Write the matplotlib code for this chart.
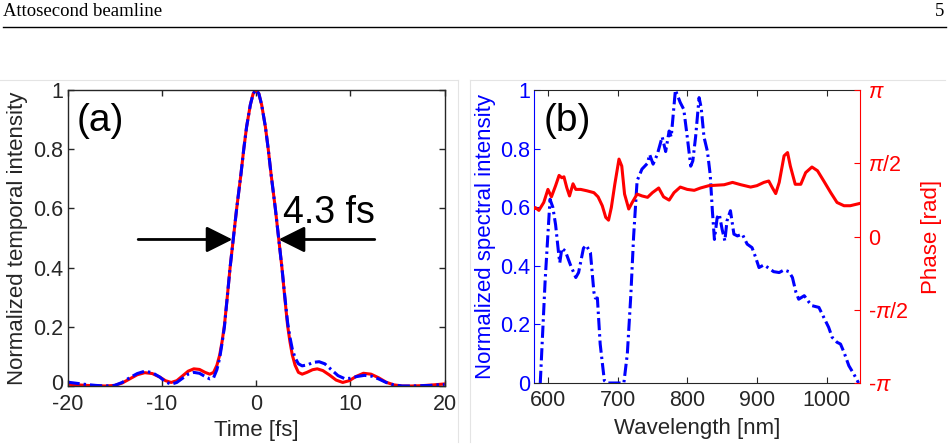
import numpy as np
import matplotlib.pyplot as plt
import matplotlib.transforms as mtransforms
from matplotlib.lines import Line2D

plt.rcParams['font.family'] = ['Liberation Sans', 'DejaVu Sans']
plt.rcParams['mathtext.fontset'] = 'custom'
plt.rcParams['mathtext.it'] = 'Liberation Sans:italic'
plt.rcParams['mathtext.rm'] = 'Liberation Sans'
plt.rcParams['axes.unicode_minus'] = False

# (a) temporal intensity, retrieved (red) and measured (blue)
t_red = [-20, -19, -18, -17, -16, -15, -14.2, -13.4, -12.6, -11.8, -11.0, -10.2, -9.6, -9.0,
         -8.4, -7.8, -7.2, -6.6, -6.0, -5.4, -4.9, -4.5, -4.15, -3.85, -3.6, -3.35, -3.05,
         -2.75, -2.4, -2.05, -1.6, -1.3, -1.0, -0.6, -0.3, 0, 0.3, 0.6, 1.0, 1.3, 1.6, 2.05,
         2.4, 2.75, 3.05, 3.35, 3.6, 3.85, 4.15, 4.5, 4.9, 5.4, 6.0, 6.5, 7.1, 7.8, 8.5, 9.2,
         9.9, 10.6, 11.4, 12.2, 13.0, 13.8, 14.6, 15.5, 16.5, 17.5, 18.5, 19.3, 20]
I_red = [0.006, 0.004, 0.002, 0.001, 0.0, 0.002, 0.010, 0.024, 0.038, 0.045, 0.042, 0.030,
         0.018, 0.012, 0.018, 0.034, 0.050, 0.058, 0.056, 0.046, 0.040, 0.046, 0.070, 0.105,
         0.150, 0.205, 0.300, 0.400, 0.500, 0.600, 0.715, 0.800, 0.875, 0.950, 0.988, 1.0,
         0.988, 0.950, 0.875, 0.800, 0.715, 0.600, 0.500, 0.400, 0.300, 0.205, 0.150, 0.105,
         0.070, 0.046, 0.040, 0.046, 0.055, 0.058, 0.052, 0.037, 0.020, 0.012, 0.018, 0.032,
         0.043, 0.040, 0.028, 0.013, 0.004, 0.0, 0.0, 0.001, 0.003, 0.005, 0.007]

t_blue = [-20, -19, -18, -17, -16, -15, -14.2, -13.4, -12.6, -11.8, -11.0, -10.2, -9.6, -9.0,
          -8.4, -7.8, -7.2, -6.6, -6.0, -5.4, -4.9, -4.5, -4.15, -3.85, -3.6, -3.35, -3.05,
          -2.75, -2.4, -2.05, -1.6, -1.3, -1.0, -0.6, -0.3, 0, 0.3, 0.6, 1.0, 1.3, 1.6, 2.05,
          2.4, 2.75, 3.05, 3.35, 3.6, 3.85, 4.15, 4.5, 4.9, 5.5, 6.1, 6.7, 7.3, 8.0, 8.7, 9.4,
          10.0, 10.7, 11.5, 12.3, 13.0, 13.8, 14.6, 15.5, 16.5, 17.5, 18.5, 19.3, 20]
I_blue = [0.013, 0.009, 0.005, 0.002, 0.0, 0.002, 0.012, 0.028, 0.042, 0.050, 0.045, 0.030,
          0.014, 0.006, 0.012, 0.026, 0.040, 0.046, 0.043, 0.032, 0.024, 0.028, 0.055, 0.095,
          0.145, 0.200, 0.300, 0.400, 0.500, 0.600, 0.715, 0.800, 0.875, 0.950, 0.988, 1.0,
          0.988, 0.950, 0.875, 0.800, 0.715, 0.600, 0.500, 0.400, 0.305, 0.215, 0.165, 0.125,
          0.095, 0.075, 0.068, 0.072, 0.080, 0.082, 0.075, 0.055, 0.035, 0.025, 0.026, 0.032,
          0.036, 0.033, 0.024, 0.012, 0.004, 0.0, 0.0, 0.001, 0.002, 0.004, 0.005]

# (b) spectrum (blue, left axis) and spectral phase (red, right axis)
wl_spec = [589, 596, 603, 607, 611, 615, 617, 620, 625, 632, 640, 644, 651, 655, 661, 666,
           668, 671, 675, 681, 685, 709, 714, 719, 723, 728, 735, 743, 746, 751, 757, 764, 769,
           774, 777, 783, 790, 795, 800, 805, 808, 812, 817, 820, 824, 829, 833, 836, 839, 843,
           846, 850, 854, 857, 862, 867, 872, 879, 886, 893, 898, 903, 910, 917, 924, 932, 939,
           946, 951, 956, 960, 968, 975, 979, 989, 996, 1003, 1008, 1015, 1020, 1025, 1032,
           1039, 1046]
I_spec = [0.0, 0.35, 0.627, 0.60, 0.54, 0.45, 0.41, 0.46, 0.45, 0.405, 0.36, 0.377, 0.46,
          0.47, 0.445, 0.31, 0.29, 0.29, 0.133, 0.008, 0.0, 0.0, 0.10, 0.30, 0.50, 0.69, 0.73,
          0.75, 0.78, 0.747, 0.78, 0.84, 0.79, 0.86, 0.84, 1.0, 0.957, 0.934, 0.84, 0.74,
          0.758, 0.84, 0.974, 0.94, 0.84, 0.79, 0.71, 0.59, 0.49, 0.565, 0.576, 0.525, 0.485,
          0.553, 0.588, 0.508, 0.502, 0.508, 0.474, 0.462, 0.43, 0.394, 0.403, 0.392, 0.38,
          0.377, 0.386, 0.38, 0.36, 0.31, 0.286, 0.298, 0.275, 0.264, 0.258, 0.224, 0.19,
          0.156, 0.139, 0.133, 0.105, 0.059, 0.031, 0.0]

wl_phase = [580, 582, 587, 594, 600, 605, 611, 616, 620, 623, 627, 631, 636, 640, 647, 656,
            666, 672, 678, 683, 687, 691, 696, 702, 706, 710, 716, 721, 728, 735, 743, 750,
            759, 766, 774, 781, 790, 800, 810, 819, 831, 853, 865, 877, 891, 900, 910, 917,
            922, 927, 932, 939, 944, 948, 955, 963, 970, 979, 987, 996, 1006, 1015, 1025,
            1034, 1048]
phase = [0.60, 0.62, 0.56, 0.73, 1.01, 0.85, 1.09, 1.31, 1.26, 1.28, 1.05, 0.87, 1.13, 1.01,
         1.01, 0.98, 0.94, 0.85, 0.66, 0.41, 0.35, 0.62, 1.12, 1.66, 1.51, 0.91, 0.59, 0.73,
         0.91, 0.87, 0.84, 0.94, 1.04, 0.85, 0.78, 0.94, 1.06, 1.01, 0.99, 1.04, 1.09, 1.11,
         1.16, 1.11, 1.06, 1.09, 1.16, 1.19, 1.05, 0.92, 1.16, 1.73, 1.80, 1.51, 1.12, 1.12,
         1.37, 1.49, 1.41, 1.19, 0.94, 0.73, 0.66, 0.66, 0.71]

phase_ticks = [-np.pi, -np.pi / 2, 0, np.pi / 2, np.pi]
phase_labels = ['-$\\pi$', '-$\\pi$/2', '0', '$\\pi$/2', '$\\pi$']

BLUE = (0, 0, 1)
RED = (1, 0, 0)
GREY = '#262626'
dashdot = (0, (4, 1.3, 0.8, 1.3))
FS_TICK = 15.5
FS_LAB = 16

fig = plt.figure(figsize=(9.49, 4.48), dpi=100)

# page header
fig.text(3 / 949, 1 - 12 / 448, 'Attosecond beamline', family='Liberation Serif',
         fontsize=13.5, va='center', ha='left')
fig.text(944 / 949, 1 - 12 / 448, '5', family='Liberation Serif', fontsize=13.5,
         va='center', ha='right')
fig.add_artist(Line2D([3 / 949, 946 / 949], [1 - 27 / 448] * 2, color='k', lw=1.0))
# faint frames of the two sub-images
lc = '#e4e4e4'
fig.add_artist(Line2D([0, 457.5 / 949], [1 - 80.5 / 448] * 2, color=lc, lw=0.8))
fig.add_artist(Line2D([470 / 949, 945 / 949], [1 - 80.5 / 448] * 2, color=lc, lw=0.8))
fig.add_artist(Line2D([457.5 / 949] * 2, [1 - 80.5 / 448, 1 - 442 / 448], color=lc, lw=0.8))
fig.add_artist(Line2D([470 / 949] * 2, [1 - 80.5 / 448, 1 - 442 / 448], color=lc, lw=0.8))

# ---- (a)
ax = fig.add_axes([67.5 / 949, 1 - 386 / 448, 377 / 949, 296 / 448])
ax.plot(t_red, I_red, color=RED, lw=2.2)
ax.plot(t_blue, I_blue, color=BLUE, lw=2.2, ls=dashdot)
ax.set_xlim(-20, 20)
ax.set_ylim(0, 1)
ax.set_xticks([-20, -10, 0, 10, 20])
ax.set_yticks([0, 0.2, 0.4, 0.6, 0.8, 1])
ax.set_yticklabels(['0', '0.2', '0.4', '0.6', '0.8', '1'])
ax.tick_params(direction='in', top=True, right=True, length=4, width=1, colors=GREY,
               labelsize=FS_TICK)
ax.tick_params(axis='x', pad=6)
ax.tick_params(axis='y', pad=3)
# lift the "0" label a little so it clears the "-20" below it
lab0 = ax.get_yticklabels()[0]
lab0.set_transform(lab0.get_transform()
                   + mtransforms.ScaledTranslation(0, 3 / 72, fig.dpi_scale_trans))
for s in ax.spines.values():
    s.set_color(GREY)
    s.set_linewidth(1.0)
ax.set_xlabel('Time [fs]', fontsize=FS_LAB, color=GREY, labelpad=3)
ax.set_ylabel('Normalized temporal intensity', fontsize=FS_LAB, color=GREY, labelpad=4)
ax.text(0.025, 0.895, '(a)', transform=ax.transAxes, fontsize=28, va='center', ha='left')
ax.text(0.572, 0.551, '4.3 fs', transform=ax.transAxes, fontsize=27, va='baseline',
        ha='left')
arr = dict(arrowstyle='-|>,head_length=0.4,head_width=0.2', mutation_scale=40, lw=2,
           color='k', shrinkA=0, shrinkB=0)
ax.annotate('', xy=(-2.5, 0.495), xytext=(-12.5, 0.495), arrowprops=arr)
ax.annotate('', xy=(2.4, 0.495), xytext=(12.6, 0.495), arrowprops=arr)

# ---- (b)
bx = fig.add_axes([534 / 949, 1 - 383 / 448, 326 / 949, 293 / 448])
bx.plot(wl_spec, I_spec, color=BLUE, lw=2.2, ls=dashdot, zorder=3)
bx.set_xlim(580, 1048)
bx.set_ylim(0, 1)
bx.set_xticks([600, 700, 800, 900, 1000])
bx.set_yticks([0, 0.2, 0.4, 0.6, 0.8, 1])
bx.set_yticklabels(['0', '0.2', '0.4', '0.6', '0.8', '1'])
bx.tick_params(axis='x', direction='in', top=True, length=4, colors=GREY,
               labelsize=FS_TICK, pad=5)
bx.tick_params(axis='y', direction='in', length=4, colors=BLUE, labelsize=FS_TICK, pad=3)
bx.spines['left'].set_color(BLUE)
bx.spines['top'].set_color(GREY)
bx.spines['bottom'].set_color(GREY)
bx.spines['right'].set_visible(False)
bx.set_xlabel('Wavelength [nm]', fontsize=FS_LAB, color=GREY, labelpad=5)
bx.set_ylabel('Normalized spectral intensity', fontsize=FS_LAB, color=BLUE, labelpad=3)
bx.text(0.028, 0.895, '(b)', transform=bx.transAxes, fontsize=28, va='center', ha='left')

px = bx.twinx()
px.plot(wl_phase, phase, color=RED, lw=2.2)
px.set_ylim(-np.pi, np.pi)
px.set_yticks(phase_ticks)
px.set_yticklabels(phase_labels)
px.tick_params(axis='y', direction='in', length=4, colors=RED, labelsize=FS_TICK, pad=6)
px.spines['right'].set_color(RED)
px.spines['left'].set_visible(False)
px.spines['top'].set_visible(False)
px.spines['bottom'].set_visible(False)
px.set_ylabel('Phase [rad]', fontsize=FS_LAB, color=RED, labelpad=9)

fig.savefig('out.png', dpi=100)
